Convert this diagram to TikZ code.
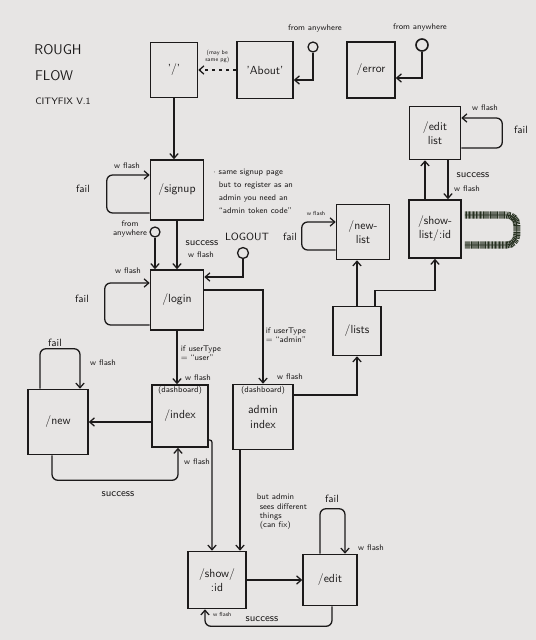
\documentclass[tikz,border=0pt]{standalone}
\usetikzlibrary{arrows.meta,calc,decorations.pathmorphing}
\definecolor{paper}{RGB}{231,229,228}
\definecolor{ink}{RGB}{28,26,26}
\definecolor{scribble}{RGB}{38,48,32}
\begin{document}
\begin{tikzpicture}[x=0.03cm, y=-0.03cm, >={Straight Barb[length=4pt,width=7pt]},
    every node/.style={font=\sffamily, text=ink},
    page/.style={draw=ink, line width=1.3pt, inner sep=1pt, align=center,
      minimum width=1.6cm, minimum height=1.75cm},
    wire/.style={draw=ink, line width=1.1pt, ->},
    loopback/.style={wire, rounded corners=5pt},
    hole/.style={circle, draw=ink, line width=1.1pt, inner sep=0pt, minimum size=0.3cm},
    note/.style={font=\sffamily\scriptsize, align=left, inner sep=1pt},
    fail/.style={font=\sffamily\small, inner sep=1pt},
    dashlabel/.style={font=\sffamily\scriptsize, anchor=north, inner sep=2pt}]
  \fill[paper] (0,0) rectangle (536,640);

  % title
  \node[font=\sffamily\large] (rough) at (58,50) {ROUGH};
  \node[font=\sffamily\large] (flow) at (54,76) {FLOW};
  \node[font=\sffamily\footnotesize] (version) at (63,101) {CITYFIX V.1};

  % pages
  \node[page, minimum width=1.41cm, minimum height=1.65cm] (root) at (174,70) {'/'};
  \node[page, minimum width=1.68cm, minimum height=1.71cm] (about) at (265,70) {'About'};
  \node[page, minimum width=1.44cm, minimum height=1.68cm] (error) at (371,70) {/error};
  \node[page, minimum width=1.53cm, minimum height=1.59cm] (editlist) at (435,133) {/edit\\list};
  \node[page, minimum width=1.59cm, minimum height=1.8cm] (signup) at (177,190) {/signup};
  \node[page, minimum width=1.59cm, minimum height=1.65cm] (newlist) at (363,232) {/new-\\list};
  \node[page, minimum width=1.56cm, minimum height=1.74cm] (showlist) at (435,229) {/show-\\list/:id};
  \node[page, minimum width=1.59cm, minimum height=1.8cm] (login) at (177,300) {/login};
  \node[page, minimum width=1.44cm, minimum height=1.47cm] (lists) at (357,331) {/lists};
  \node[page, minimum width=1.8cm, minimum height=1.95cm] (new) at (58,422) {/new};
  \node[page, minimum width=1.68cm, minimum height=1.86cm,
    label={[dashlabel]north:(dashboard)}] (index) at (180,416) {/index};
  \node[page, minimum width=1.8cm, minimum height=1.95cm,
    label={[dashlabel]north:(dashboard)}] (adminindex) at (263,417) {admin\\index};
  \node[page, minimum width=1.74cm, minimum height=1.71cm] (show) at (217,580) {/show/\\:id};
  \node[page, minimum width=1.62cm, minimum height=1.53cm] (edit) at (330,580) {/edit};

  % entry points
  \node[hole] (anyabout) at (313,47) {};
  \node[hole, minimum size=0.36cm, line width=1.4pt] (anyerror) at (422,45) {};
  \node[hole] (anysignup) at (155,232) {};
  \node[hole, minimum size=0.33cm] (logout) at (243,253) {};
  \node[note] at (315,28) {from anywhere};
  \node[note] at (420,27) {from anywhere};
  \node[note, align=center] at (130,229) {from\\anywhere};
  \node[font=\sffamily\small] at (247,237) {LOGOUT};

  \draw[wire, dashed] (about.west) -- (root.east)
    node[midway, above=2pt, font=\sffamily\tiny, align=center] {(may be\\same pg)};
  \draw[wire] (anyabout.south) |- ($(about.east)+(0,10)$);
  \draw[wire] (anyerror.south) |- ($(error.east)+(0,8)$);
  \draw[wire] (root.south) -- (root.south |- signup.north);

  % signup
  \draw[loopback] ($(signup.west)+(0,23)$) -- ++(-43,0) |- ($(signup.west)+(0,-15)$);
  \node[note] at (127,166) {w flash};
  \node[fail] at (83,189) {fail};
  \node[note, font=\fontsize{7}{11}\selectfont\sffamily] at (253,191)
    {$\cdot$ same signup page\\\ \ but to register as an\\\ \ admin you need an\\\ \ ``admin token code''};
  \draw[wire] (signup.south) -- (login.north);
  \node[fail] at (202,243) {success};
  \node[note] at (201,255) {w flash};
  \draw[wire] (anysignup.south) -- (anysignup.south |- login.north);

  % login
  \draw[wire] (logout.south) |- ($(login.east)+(0,-23)$);
  \draw[loopback] ($(login.west)+(0,25)$) -- ++(-45,0) |- ($(login.west)+(0,-17)$);
  \node[note] at (128,271) {w flash};
  \node[fail] at (82,299) {fail};
  \draw[wire] (login.south) -- (login.south |- index.north);
  \node[note] at (201,353) {if userType\\= ``user''};
  \node[note] at (198,378) {w flash};
  \draw[wire] ($(login.east)+(0,-10)$) -| (adminindex.north);
  \node[note] at (286,335) {if userType\\= ``admin''};
  \node[note] at (290,377) {w flash};

  % user side
  \draw[wire] (new.east -| index.west) -- (new.east);
  \draw[loopback] ($(new.north)+(-18,0)$) -- ++(0,-40) -| ($(new.north)+(22,0)$);
  \node[fail] at (55,343) {fail};
  \node[note] at (103,363) {w flash};
  \draw[loopback] ($(new.south)+(-6,0)$) -- ++(0,25) -| ($(index.south)+(-2,0)$);
  \node[fail] at (118,494) {success};
  \node[note] at (197,462) {w flash};
  \draw[wire, rounded corners=2pt] ($(index.east)+(0,24)$) -| ($(show.north)+(-5,0)$);
  \draw[wire] ($(adminindex.south)+(-23,0)$) -- ($(show.north)+(23,0)$);
  \node[note] at (282,512) {but admin\\\ sees different\\\ things\\\ (can fix)};

  % show / edit
  \draw[wire] (show.east) -- (edit.west);
  \draw[loopback] ($(edit.north)+(-10,0)$) -- ++(0,-45) -| ($(edit.north)+(15,0)$);
  \node[fail] at (332,499) {fail};
  \node[note] at (371,548) {w flash};
  \draw[loopback] ($(edit.south)+(2,0)$) -- ++(0,20) -| ($(show.south)+(-12,0)$);
  \node[fail] at (262,619) {success};
  \node[font=\sffamily\tiny, anchor=west] at (209,614) {w flash};

  % admin side
  \draw[wire] ($(adminindex.east)+(0,-22)$) -| (lists.south);
  \draw[wire] (lists.north) -- (lists.north |- newlist.south);
  \draw[wire] ($(lists.north)+(18,0)$) -- ++(0,-15) -| (showlist.south);
  \draw[loopback] ($(newlist.west)+(0,18)$) -- ++(-34,0) |- ($(newlist.west)+(0,-10)$);
  \node[font=\sffamily\tiny] at (316,213) {w flash};
  \node[fail] at (290,237) {fail};
  \draw[wire] ($(showlist.north)+(-10,0)$) -- ($(editlist.south)+(-10,0)$);
  \draw[wire] ($(editlist.south)+(13,0)$) -- ($(showlist.north)+(13,0)$);
  \node[fail] at (473,175) {success};
  \node[note] at (467,189) {w flash};
  \draw[loopback] ($(editlist.east)+(0,15)$) -- ++(41,0) |- ($(editlist.east)+(0,-15)$);
  \node[note] at (485,108) {w flash};
  \node[fail] at (521,130) {fail};

  % scribbled-out loop
  \draw[scribble, line width=6pt, dash pattern=on 0.7pt off 0.5pt, rounded corners=0.3cm]
    ($(showlist.east)+(3,-14)$) -- ++(52,0) -- ++(0,30) -- ++(-52,0);
  \draw[scribble, line width=0.8pt, rounded corners=0.3cm]
    ($(showlist.east)+(3,-14)$) -- ++(52,0) -- ++(0,30) -- ++(-52,0);
\end{tikzpicture}
\end{document}
